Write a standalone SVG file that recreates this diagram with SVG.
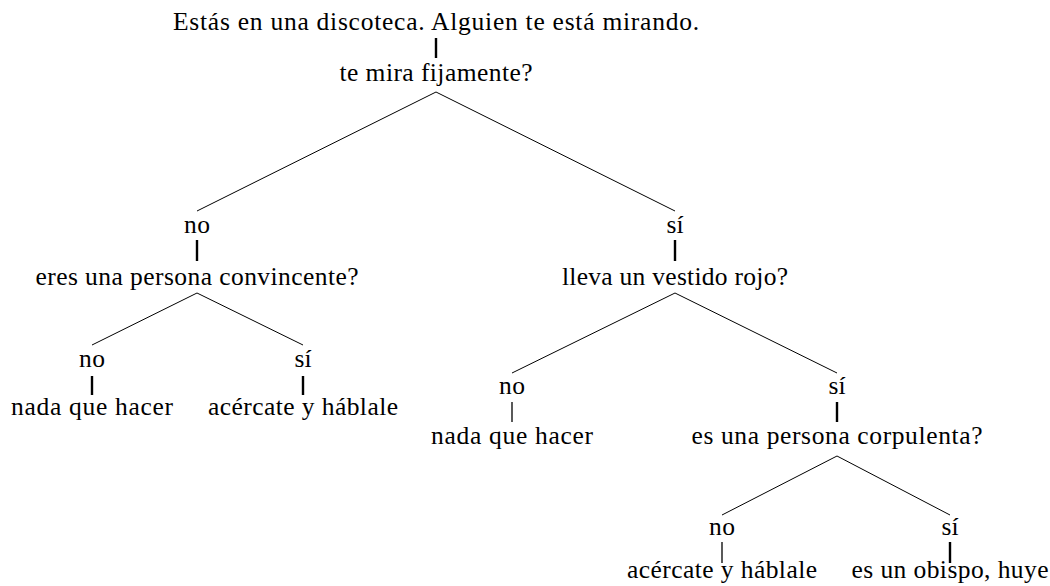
<svg xmlns="http://www.w3.org/2000/svg" width="1050" height="586" viewBox="0 0 1050 586">
<style>
.lbl{font-family:'Liberation Serif','DejaVu Serif','Times New Roman',serif;font-size:25.5px;fill:#000;text-anchor:middle}
.e{stroke:#000;stroke-width:1;fill:none}
.t{stroke:#000;stroke-width:2.4}
.tt{stroke:#000;stroke-width:1.3}
</style>
<rect width="1050" height="586" fill="#fff"/>
<g id="connectors">
<line class="e" x1="436" y1="92" x2="197" y2="211"/>
<line class="e" x1="436" y1="92" x2="675" y2="211"/>
<line class="e" x1="197" y1="293" x2="92" y2="345"/>
<line class="e" x1="197" y1="293" x2="303" y2="345"/>
<line class="e" x1="675" y1="293" x2="512" y2="373"/>
<line class="e" x1="675" y1="293" x2="837" y2="373"/>
<line class="e" x1="837" y1="456" x2="722" y2="515"/>
<line class="e" x1="837" y1="456" x2="950" y2="515"/>
</g>
<g class="lbl" font-family="Liberation Serif, DejaVu Serif, serif" font-size="25.5" text-anchor="middle">
<g id="root">
<text x="436" y="30" textLength="526">Estás en una discoteca. Alguien te está mirando.</text>
<line class="t" x1="436" y1="38" x2="436" y2="58"/>
<text x="436" y="81" textLength="193">te mira fijamente?</text>
</g>
<g id="no1">
<text x="197" y="233" textLength="26">no</text>
<line class="t" x1="197" y1="240" x2="197" y2="261"/>
<text x="197" y="285" textLength="323">eres una persona convincente?</text>
</g>
<g id="no1-no">
<text x="92" y="367" textLength="26">no</text>
<line class="t" x1="92" y1="376" x2="92" y2="395"/>
<text x="92" y="415" textLength="162">nada que hacer</text>
</g>
<g id="no1-si">
<text x="303" y="367" textLength="17">sí</text>
<line class="t" x1="303" y1="376" x2="303" y2="395"/>
<text x="303" y="415" textLength="190">acércate y háblale</text>
</g>
<g id="si1">
<text x="675" y="233" textLength="17">sí</text>
<line class="t" x1="675" y1="240" x2="675" y2="261"/>
<text x="675" y="285" textLength="226">lleva un vestido rojo?</text>
</g>
<g id="si1-no">
<text x="512" y="394" textLength="26">no</text>
<line class="tt" x1="512" y1="402" x2="512" y2="422"/>
<text x="512" y="444" textLength="162">nada que hacer</text>
</g>
<g id="si1-si">
<text x="837" y="394" textLength="17">sí</text>
<line class="t" x1="837" y1="402" x2="837" y2="422"/>
<text x="837" y="444" textLength="291">es una persona corpulenta?</text>
</g>
<g id="si2-no">
<text x="722" y="535" textLength="26">no</text>
<line class="tt" x1="722" y1="542" x2="722" y2="563"/>
<text x="722" y="578" textLength="190">acércate y háblale</text>
</g>
<g id="si2-si">
<text x="950" y="535" textLength="17">sí</text>
<line class="t" x1="950" y1="542" x2="950" y2="563"/>
<text x="950" y="578" textLength="197">es un obispo, huye</text>
</g>
</g>
</svg>
